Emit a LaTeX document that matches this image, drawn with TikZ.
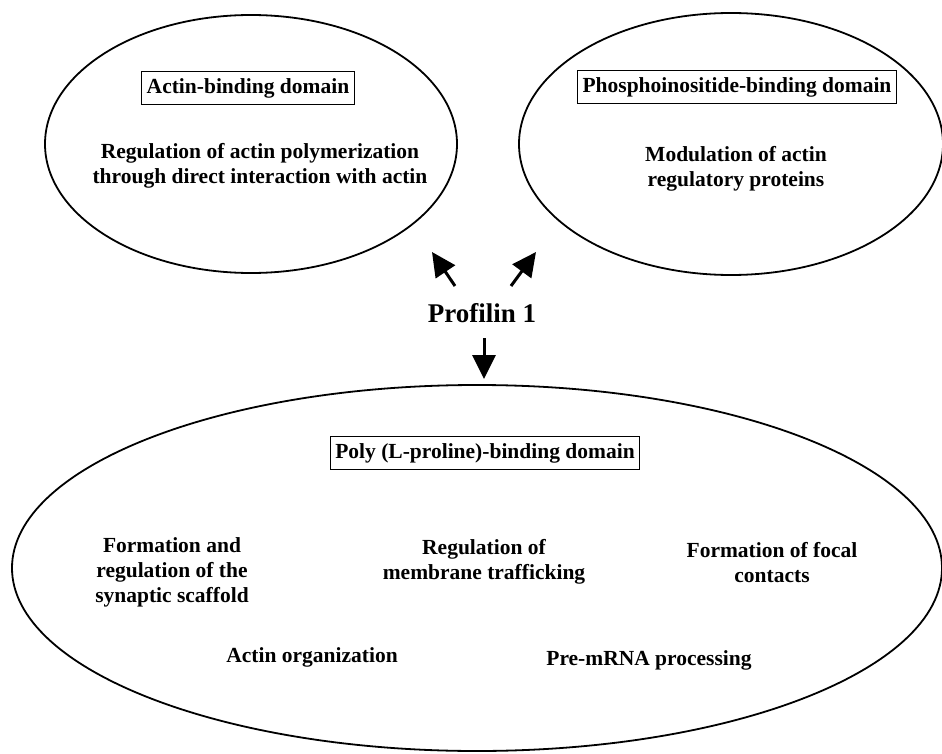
\documentclass[tikz,border=0pt]{standalone}
\usepackage{fontspec}
\setmainfont{Liberation Serif}
\usetikzlibrary{shapes.geometric,arrows.meta}
\tikzset{
  oval/.style={ellipse, draw, line width=1.8pt, inner sep=0pt},
  dombox/.style={draw, line width=1.3pt, inner xsep=5pt, minimum height=33pt, font=\bfseries\fontsize{21.5}{25}\selectfont},
  txt/.style={align=center, inner sep=0pt, font=\bfseries\fontsize{21.5}{25}\selectfont},
  bigarrow/.style={line width=3pt, -{Triangle[length=24pt,width=23pt]}},
}
\begin{document}
\begin{tikzpicture}[x=1pt,y=-1pt]
\useasboundingbox (0,0) rectangle (942,754);
% ellipses
\node[oval, minimum width=412pt, minimum height=258pt] (actin) at (251,144) {};
\node[oval, minimum width=424pt, minimum height=262pt] (phos) at (731,144) {};
\node[oval, minimum width=930pt, minimum height=366pt] (poly) at (477,568) {};
% top-left
\node[dombox] (abd) at (248,88) {Actin-binding domain};
\node[txt] (areg) at (260,166) {Regulation of actin polymerization\\through direct interaction with actin};
% top-right
\node[dombox] (pbd) at (737,87) {Phosphoinositide-binding domain};
\node[txt] (pmod) at (736,169) {Modulation of actin\\regulatory proteins};
% centre
\node[txt, font=\bfseries\fontsize{27}{30}\selectfont] (prof) at (482,313) {Profilin 1};
\coordinate (lt) at (455,286);
\coordinate (lh) at (432,252);
\coordinate (rt) at (511,286);
\coordinate (rh) at (536,252);
\coordinate (dt) at (484,338);
\coordinate (dh) at (484,379);
\draw[bigarrow] (lt) -- (lh);
\draw[bigarrow] (rt) -- (rh);
\draw[bigarrow] (dt) -- (dh);
% bottom
\node[dombox] (plbd) at (485,453) {Poly (L-proline)-binding domain};
\node[txt] (syn) at (172,572) {Formation and\\regulation of the\\synaptic scaffold};
\node[txt] (mem) at (484,562) {Regulation of\\membrane trafficking};
\node[txt] (foc) at (772,563) {Formation of focal\\contacts};
\node[txt] (aorg) at (312,657) {Actin organization};
\node[txt] (pre) at (649,660) {Pre-mRNA processing};
\end{tikzpicture}
\end{document}
